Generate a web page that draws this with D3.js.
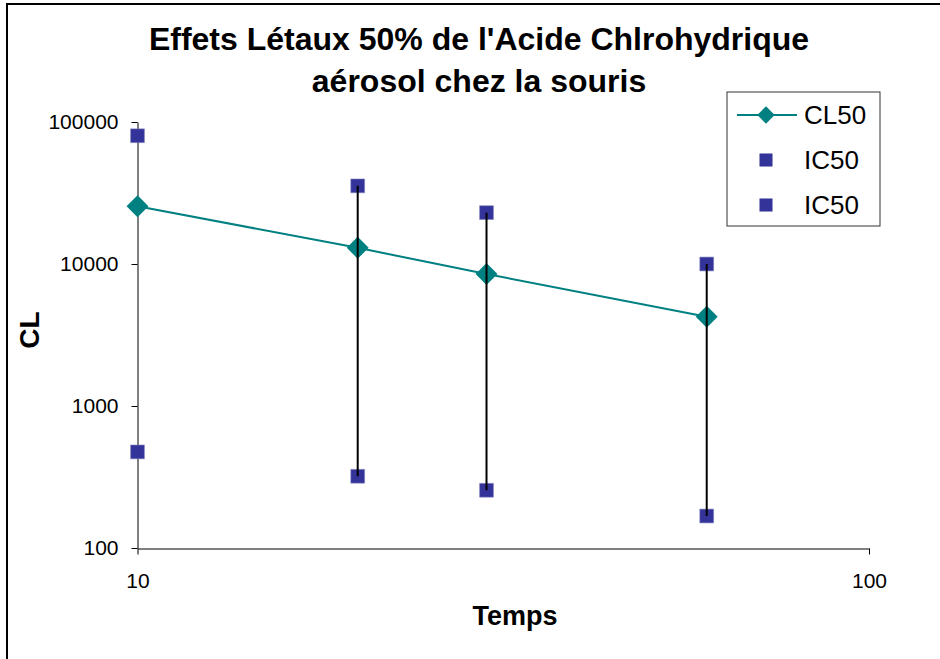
<!DOCTYPE html>
<html>
<head>
<meta charset="utf-8">
<script src="https://cdn.jsdelivr.net/npm/d3@7"></script>
<style>
  body { margin: 0; background: #fff; }
  text { font-family: "Liberation Sans", Arial, sans-serif; }
</style>
</head>
<body>
<div id="chart"></div>
<script>
// Data
const titleLines = ["Effets Létaux 50% de l'Acide Chlrohydrique", "aérosol chez la souris"];
const times = [10, 20, 30, 60];
const cl50 = [25500, 13000, 8500, 4250];
const ic50Upper = [80000, 35500, 23000, 10000];
const ic50Lower = [475, 320, 255, 168];
const barShown = [false, true, true, true];
const xTicks = [10, 100];
const yTicks = [100, 1000, 10000, 100000];
const legendItems = ["CL50", "IC50", "IC50"];

const width = 940, height = 659;
const teal = '#008080', navy = '#333399';

const svg = d3.select('#chart')
    .append('svg')
    .attr('width', width)
    .attr('height', height);

svg.append('rect')
    .attr('width', width)
    .attr('height', height)
    .attr('fill', '#fff');

// Outer chart frame (cropped on right / bottom)
svg.append('path')
    .attr('d', `M7,${height} V4 H${width}`)
    .attr('fill', 'none')
    .attr('stroke', '#000')
    .attr('stroke-width', 2);

// Scales
const x = d3.scaleLog().domain([10, 100]).range([137.5, 869]);
const y = d3.scaleLog().domain([100, 100000]).range([548, 122]);

// Title
svg.append('text')
    .attr('text-anchor', 'middle')
    .style('font-size', '32px')
    .style('font-weight', 'bold')
    .selectAll('tspan')
    .data(titleLines)
    .join('tspan')
    .attr('x', 479)
    .attr('y', (d, i) => 50 + i * 42)
    .text(d => d);

// Axes
const yAxis = d3.axisLeft(y)
    .tickValues(yTicks)
    .tickFormat(d3.format('d'))
    .tickSizeInner(6)
    .tickSizeOuter(0)
    .tickPadding(13);

const gy = svg.append('g')
    .attr('transform', 'translate(137.5,0)')
    .call(yAxis);

const xAxis = d3.axisBottom(x)
    .tickValues(xTicks)
    .tickFormat(d3.format('d'))
    .tickSizeInner(6)
    .tickSizeOuter(0)
    .tickPadding(19);

const gx = svg.append('g')
    .attr('transform', 'translate(0,548.5)')
    .call(xAxis);

[gx, gy].forEach(g => {
    g.select('.domain').attr('stroke', '#000');
    g.selectAll('.tick line').attr('stroke', '#000');
    g.selectAll('.tick text')
        .style('font-size', '21px')
        .style('font-family', '"Liberation Sans", Arial, sans-serif')
        .attr('fill', '#000');
});

// Axis titles
svg.append('text')
    .attr('x', 515)
    .attr('y', 625)
    .attr('text-anchor', 'middle')
    .style('font-size', '27px')
    .style('font-weight', 'bold')
    .text('Temps');

svg.append('text')
    .attr('transform', 'translate(39,330) rotate(-90)')
    .attr('text-anchor', 'middle')
    .style('font-size', '28px')
    .style('font-weight', 'bold')
    .text('CL');

// CL50 line
const pts = times.map((t, i) => [t, cl50[i]]);
svg.append('path')
    .datum(pts)
    .attr('fill', 'none')
    .attr('stroke', teal)
    .attr('stroke-width', 2)
    .attr('d', d3.line().x(d => x(d[0])).y(d => y(d[1])));

const diamond = d3.symbol().type(d3.symbolSquare).size(240);
svg.selectAll('.cl-marker')
    .data(pts)
    .join('path')
    .attr('class', 'cl-marker')
    .attr('d', diamond)
    .attr('fill', teal)
    .attr('transform', d => `translate(${x(d[0])},${y(d[1])}) rotate(45)`);

// IC50 markers
const square = d3.symbol().type(d3.symbolSquare).size(190);
const icPts = times.flatMap((t, i) => [[t, ic50Upper[i]], [t, ic50Lower[i]]]);
svg.selectAll('.ic-marker')
    .data(icPts)
    .join('path')
    .attr('class', 'ic-marker')
    .attr('d', square)
    .attr('fill', navy)
    .attr('stroke', '#8080c0')
    .attr('stroke-width', 0.6)
    .attr('transform', d => `translate(${x(d[0])},${y(d[1])})`);

// Range bars between IC50 bounds
times.forEach((t, i) => {
    if (!barShown[i]) return;
    svg.append('line')
        .attr('x1', x(t)).attr('x2', x(t))
        .attr('y1', y(ic50Upper[i]))
        .attr('y2', y(ic50Lower[i]))
        .attr('stroke', '#000')
        .attr('stroke-width', 2);
});

// Legend
const legend = svg.append('g').attr('transform', 'translate(727,92)');
legend.append('rect')
    .attr('width', 153)
    .attr('height', 134)
    .attr('fill', '#fff')
    .attr('stroke', '#333')
    .attr('stroke-width', 1);

legendItems.forEach((label, i) => {
    const ly = 23 + i * 45;
    if (i === 0) {
        legend.append('line')
            .attr('x1', 10).attr('x2', 70)
            .attr('y1', ly).attr('y2', ly)
            .attr('stroke', teal)
            .attr('stroke-width', 2);
        legend.append('path')
            .attr('d', d3.symbol().type(d3.symbolSquare).size(150))
            .attr('fill', teal)
            .attr('transform', `translate(39,${ly}) rotate(45)`);
    } else {
        legend.append('path')
            .attr('d', d3.symbol().type(d3.symbolSquare).size(170))
            .attr('fill', navy)
            .attr('transform', `translate(39,${ly})`);
    }
    legend.append('text')
        .attr('x', 77)
        .attr('y', ly)
        .attr('dy', '0.36em')
        .style('font-size', '26px')
        .text(label);
});
</script>
</body>
</html>
